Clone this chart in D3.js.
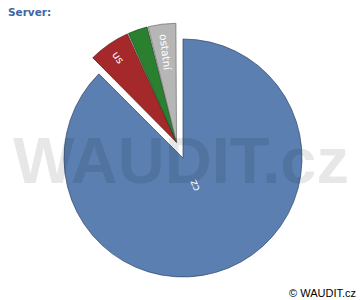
<!DOCTYPE html>
<meta charset="utf-8">
<style>
  body { margin: 0; background: #fff; }
</style>
<body>
<div id="chart"></div>

<script src="https://d3js.org/d3.v7.min.js"></script>
<script>

// data (percent)
var categories = ["cz", "us", "sk", "ostatní"];
var values = [87.5, 5.8, 2.8, 3.9];
var colors = ["#5a7fb0", "#a5282b", "#2b8030", "#b6b6b6"];
var strokes = ["#2f4668", "#5c1416", "#15401a", "#6a6a6a"];

var width = 360, height = 300,
    cx = 183, cy = 158, radius = 119,
    explode = 17;

var svg = d3.select("#chart").append("svg")
    .attr("width", width)
    .attr("height", height);

// title
svg.append("text")
    .attr("x", 8)
    .attr("y", 16)
    .attr("font-family", "DejaVu Sans, sans-serif")
    .attr("font-size", "10.5px")
    .attr("font-weight", "bold")
    .attr("fill", "#3d66a3")
    .text("Server:");

var data = categories.map(function(c, i) {
  return {name: c, value: values[i], color: colors[i], stroke: strokes[i]};
});

// start at 12 o'clock, cz goes clockwise, the rest closes the circle
var pie = d3.pie()
    .sort(null)
    .value(function(d) { return d.value; });

var arcs = pie(data);

var arc = d3.arc()
    .innerRadius(0)
    .outerRadius(radius);

// the small slices are pulled out together along their common bisector
var restStart = arcs[1].startAngle,
    restEnd = arcs[arcs.length - 1].endAngle,
    restMid = (restStart + restEnd) / 2;
var ox = Math.sin(restMid) * explode,
    oy = -Math.cos(restMid) * explode;

var g = svg.append("g")
    .attr("transform", "translate(" + cx + "," + cy + ")");

var slices = g.selectAll(".slice")
    .data(arcs)
  .enter().append("g")
    .attr("class", "slice")
    .attr("transform", function(d, i) {
      return i === 0 ? null : "translate(" + ox + "," + oy + ")";
    });

slices.append("path")
    .attr("d", function(d, i) {
      return i === 0 ? arc(d) : arc.padAngle(0.01)(d);
    })
    .attr("fill", function(d) { return d.data.color; })
    .attr("stroke", function(d) { return d.data.stroke; })
    .attr("stroke-width", 0.7)
    .attr("stroke-linejoin", "round");

// labels read towards the centre
slices.filter(function(d) { return d.data.value >= 3; })
  .append("text")
    .attr("transform", function(d, i) {
      var a = (d.startAngle + d.endAngle) / 2,
          r = d.index === 0 ? 30 : radius - 10,
          deg = a * 180 / Math.PI + 90;
      return "translate(" + (Math.sin(a) * r) + "," + (-Math.cos(a) * r) + ") rotate(" + deg + ")";
    })
    .attr("dy", "0.35em")
    .attr("text-anchor", function(d) { return d.index === 0 ? "middle" : "start"; })
    .attr("font-family", "DejaVu Sans, sans-serif")
    .attr("font-size", "10.5px")
    .attr("fill", "#fff")
    .text(function(d) { return d.data.name; });

// watermark over the pie
svg.append("text")
    .attr("x", 181)
    .attr("y", 183)
    .attr("text-anchor", "middle")
    .attr("font-family", "Liberation Sans, Arial, sans-serif")
    .attr("font-weight", "bold")
    .attr("font-size", "65px")
    .attr("fill", "#000")
    .attr("fill-opacity", 0.095)
    .text("WAUDIT.cz");

// footer
svg.append("text")
    .attr("x", 356)
    .attr("y", 297)
    .attr("text-anchor", "end")
    .attr("font-family", "Liberation Sans, Arial, sans-serif")
    .attr("font-size", "11px")
    .attr("fill", "#000")
    .text("© WAUDIT.cz");

</script>
</body>
